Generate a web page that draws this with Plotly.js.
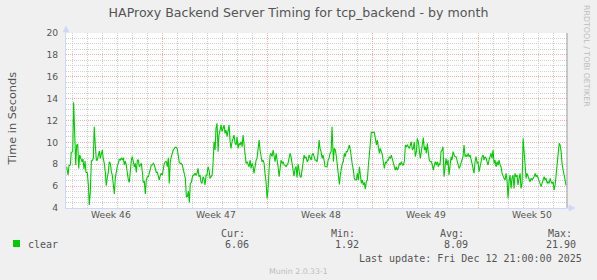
<!DOCTYPE html>
<html>
<head>
<meta charset="utf-8">
<script src="https://cdn.plot.ly/plotly-3.0.1.min.js"></script>
<style>html,body{margin:0;padding:0;background:#f0f0f0;}#chart{width:597px;height:280px;}</style>
</head>
<body>
<div id="chart"></div>
<script>
// time in days since Sun Nov 9 2025 00:00 (2-hour averages)
const day = [
0.64,0.73,0.79,0.88,0.94,1.04,1.10,1.17,1.24,1.30,
1.37,1.44,1.50,1.57,1.66,1.72,1.79,1.86,1.92,2.01,
2.08,2.14,2.21,2.28,2.34,2.41,2.47,2.54,2.61,2.67,
2.74,2.81,2.87,2.94,3.01,3.07,3.14,3.21,3.27,3.34,
3.41,3.47,3.54,3.61,3.67,3.74,3.81,3.87,3.94,4.01,
4.07,4.14,4.20,4.27,4.34,4.40,4.47,4.54,4.60,4.67,
4.74,4.80,4.87,4.94,5.00,5.07,5.14,5.20,5.27,5.34,
5.40,5.47,5.54,5.60,5.67,5.73,5.80,5.87,5.93,6.00,
6.07,6.13,6.20,6.27,6.33,6.40,6.47,6.53,6.60,6.67,
6.73,6.80,6.87,6.93,7.00,7.07,7.13,7.20,7.27,7.33,
7.40,7.46,7.53,7.60,7.66,7.73,7.80,7.86,7.93,8.00,
8.06,8.13,8.20,8.26,8.33,8.40,8.46,8.53,8.60,8.66,
8.73,8.80,8.86,8.93,8.98,9.04,9.11,9.17,9.24,9.31,
9.37,9.44,9.51,9.57,9.64,9.71,9.77,9.84,9.91,9.97,
10.04,10.11,10.17,10.24,10.31,10.37,10.44,10.51,10.57,10.64,
10.71,10.77,10.84,10.91,10.97,11.04,11.11,11.17,11.24,11.31,
11.37,11.44,11.51,11.57,11.64,11.71,11.77,11.84,11.91,11.97,
12.04,12.11,12.17,12.24,12.31,12.37,12.44,12.50,12.57,12.64,
12.70,12.77,12.84,12.90,12.97,13.04,13.10,13.17,13.24,13.30,
13.37,13.44,13.50,13.57,13.63,13.70,13.77,13.83,13.90,13.97,
14.03,14.10,14.17,14.23,14.30,14.37,14.43,14.50,14.57,14.63,
14.70,14.77,14.83,14.90,14.96,15.03,15.10,15.16,15.23,15.30,
15.36,15.43,15.50,15.56,15.63,15.70,15.76,15.83,15.90,15.96,
16.03,16.10,16.16,16.23,16.30,16.36,16.43,16.50,16.56,16.63,
16.70,16.76,16.83,16.90,16.96,17.03,17.10,17.16,17.23,17.30,
17.36,17.43,17.49,17.56,17.63,17.69,17.76,17.83,17.89,17.96,
18.03,18.09,18.16,18.23,18.29,18.34,18.38,18.44,18.51,18.58,
18.64,18.71,18.78,18.84,18.91,18.97,19.04,19.11,19.17,19.24,
19.31,19.37,19.44,19.51,19.57,19.64,19.71,19.77,19.84,19.91,
19.97,20.04,20.11,20.17,20.24,20.31,20.37,20.44,20.50,20.57,
20.64,20.70,20.77,20.84,20.90,20.97,21.04,21.10,21.17,21.24,
21.30,21.37,21.44,21.50,21.57,21.64,21.70,21.77,21.84,21.90,
21.97,22.03,22.10,22.17,22.23,22.30,22.37,22.43,22.50,22.57,
22.63,22.70,22.77,22.83,22.90,22.97,23.03,23.10,23.17,23.23,
23.30,23.37,23.43,23.50,23.56,23.63,23.70,23.76,23.83,23.90,
23.96,24.03,24.10,24.16,24.23,24.30,24.36,24.43,24.50,24.56,
24.63,24.70,24.76,24.83,24.90,24.96,25.03,25.10,25.16,25.23,
25.30,25.36,25.43,25.47,25.54,25.61,25.67,25.74,25.81,25.87,
25.94,26.01,26.07,26.14,26.21,26.27,26.34,26.41,26.47,26.54,
26.60,26.67,26.74,26.80,26.87,26.94,27.00,27.07,27.14,27.20,
27.27,27.34,27.40,27.47,27.54,27.60,27.67,27.74,27.80,27.87,
27.94,28.00,28.07,28.14,28.20,28.27,28.34,28.40,28.47,28.54,
28.60,28.67,28.73,28.80,28.87,28.93,29.00,29.07,29.13,29.20,
29.27,29.33,29.40,29.47,29.53,29.60,29.67,29.73,29.80,29.87,
29.93,30.00,30.07,30.13,30.20,30.26,30.33,30.40,30.46,30.53,
30.60,30.66,30.73,30.80,30.86,30.93,31.00,31.06,31.13,31.20,
31.26,31.33,31.40,31.46,31.53,31.60,31.66,31.73,31.80,31.86,
31.93,32.00,32.06,32.13,32.20,32.26,32.33,32.40,32.46,32.53,
32.60,32.66,32.73,32.80,32.86,32.93,33.00,33.06,33.13,33.20,
33.26,33.33,33.40,33.46,33.53,33.60,33.66,33.73,33.80,33.86
];
// "clear" timing in seconds
const clearSeconds = [
7.77,7.01,7.87,7.93,9.09,9.15,13.66,10.98,7.93,9.76,
9.82,7.62,8.84,8.60,8.23,8.48,7.56,8.29,7.26,7.23,
6.10,4.27,5.49,8.32,8.32,8.54,11.43,9.76,8.38,8.38,
8.84,9.21,8.54,9.09,9.30,8.54,8.08,7.26,6.04,6.77,
7.32,8.23,8.08,7.32,7.01,6.16,5.28,6.71,7.38,7.87,
8.08,8.48,8.38,8.54,8.38,8.60,7.93,8.29,7.93,7.01,
6.56,6.34,7.47,8.38,8.69,8.23,7.77,8.08,7.26,8.38,
8.38,7.77,7.93,8.08,7.32,6.34,6.46,5.28,6.56,6.86,
6.86,7.26,7.77,7.93,7.93,8.08,7.93,7.68,7.26,7.26,
7.01,6.56,7.01,7.17,7.01,7.77,8.08,8.23,8.23,7.77,
8.60,6.25,8.23,8.69,9.09,9.30,9.45,9.54,9.54,9.39,
8.78,8.14,8.08,8.08,7.93,7.56,7.26,6.71,5.03,5.03,
5.55,4.51,6.25,6.34,6.71,7.01,7.01,7.17,7.01,7.17,
7.62,6.86,7.01,6.40,6.25,6.86,6.71,6.10,7.01,7.01,
7.77,7.47,6.71,6.86,7.01,7.93,10.06,9.30,11.28,11.74,
9.15,10.67,11.13,11.59,10.98,11.43,11.59,10.82,11.13,10.52,
11.13,11.59,10.06,9.45,10.06,10.37,10.67,9.91,9.76,10.52,
9.45,9.91,9.76,10.06,9.60,10.67,9.76,8.38,8.08,8.23,
8.08,7.77,8.38,7.62,8.08,7.77,7.17,7.93,8.38,8.54,
9.45,10.21,9.30,8.69,8.23,8.38,8.08,7.17,6.40,4.88,
5.64,7.47,8.84,9.00,8.69,9.30,8.84,8.23,9.00,8.54,
7.77,6.86,7.93,8.38,8.08,8.23,7.93,7.93,7.77,7.93,
8.08,8.54,9.00,8.69,7.77,7.47,6.90,7.60,7.80,6.80,
8.00,7.50,6.90,6.80,7.50,8.38,8.84,8.54,8.69,8.23,
8.38,8.84,8.54,8.38,8.84,9.00,8.69,8.38,8.38,8.23,
9.00,10.21,9.45,9.15,8.54,8.84,8.38,7.77,7.77,7.77,
8.38,8.54,9.00,9.15,11.43,9.15,8.23,9.45,9.30,8.69,
8.08,7.01,6.16,7.01,7.77,8.08,8.23,9.00,8.69,9.15,
9.15,9.45,9.76,9.30,8.54,7.93,7.47,6.71,6.56,6.56,
7.17,6.56,7.77,6.86,6.25,6.56,6.10,6.34,5.73,6.40,
6.56,7.77,9.00,10.06,10.91,10.91,10.91,10.91,10.37,9.76,
10.21,9.76,9.00,9.45,9.15,8.84,8.23,7.62,8.23,8.08,
8.38,8.38,8.69,8.54,8.84,8.54,8.23,7.77,7.47,7.77,
7.47,7.62,8.08,7.93,8.23,7.93,7.93,8.23,9.76,9.60,
9.76,9.60,9.45,9.76,10.06,9.30,9.45,10.06,8.69,9.15,
10.37,10.06,9.30,8.54,9.15,10.06,10.43,9.30,9.60,9.00,
9.91,9.00,8.38,8.23,8.23,7.93,7.47,7.93,8.23,7.93,
8.23,7.77,8.08,7.93,9.15,9.30,9.60,6.86,7.93,8.54,
7.93,8.38,7.01,8.23,8.69,8.38,9.15,8.84,8.69,8.69,
8.38,7.77,7.62,7.77,8.08,8.54,8.69,9.76,8.69,8.84,
8.69,9.00,8.69,8.84,8.23,8.08,7.62,7.17,8.23,8.69,
8.08,8.23,7.32,7.93,8.38,8.69,8.84,8.38,8.69,8.54,
8.23,7.93,8.38,8.69,9.00,8.54,9.30,8.08,8.38,7.77,
8.23,7.93,8.38,7.93,7.77,7.17,6.86,6.71,6.56,7.17,
6.56,4.88,6.56,7.01,5.79,6.71,7.01,5.79,7.17,6.86,
7.01,6.10,6.71,7.17,5.79,6.25,10.37,9.00,8.08,6.71,
7.17,6.86,6.56,6.40,6.71,6.56,6.71,6.86,7.17,6.86,
7.01,6.71,6.56,6.10,5.95,6.25,6.71,6.86,6.56,6.71,
6.25,6.40,6.25,6.71,6.40,6.25,6.40,5.64,6.10,7.32,
8.23,9.15,9.91,9.76,9.15,7.93,7.47,7.01,6.25,6.06
];
const weekTicks = [3.5, 10.5, 17.5, 24.5, 31.5];
const weekLabels = ["Week 46", "Week 47", "Week 48", "Week 49", "Week 50"];
const statHeaders = ["Cur:", "Min:", "Avg:", "Max:"];
const statValues = ["6.06", "1.92", "8.09", "21.90"];
const seriesName = "clear";
const lastUpdate = "Last update: Fri Dec 12 21:00:00 2025";

const W = 597, H = 280, PL = 66, PT = 33, PW = 501, PH = 175;
const px = x => (x - PL) / PW;
const py = y => (PT + PH - y) / PH;
const FONT = "DejaVu Sans";
const MONO = "DejaVu Sans Mono";
const TXT = "#555";
const AXIS = "#CFD6F8";
const MGRID = "#efb0b0";
const GRID = "#d2d2d2";

const annotations = [];
annotations.push({text: "Time in Seconds", xref: "paper", yref: "paper", x: px(12), y: py(118.5),
  textangle: -90, showarrow: false, xanchor: "center", yanchor: "middle",
  font: {family: FONT, size: 11.3, color: TXT}});
weekTicks.forEach((d, i) => annotations.push({text: weekLabels[i], xref: "x", yref: "paper", x: d, y: py(214),
  xshift: 1, showarrow: false, xanchor: "center", yanchor: "middle", borderpad: 0,
  font: {family: FONT, size: 9.2, color: TXT}}));
annotations.push({text: "RRDTOOL / TOBI OETIKER", xref: "paper", yref: "paper", x: px(587), y: py(56),
  textangle: 90, showarrow: false, xanchor: "center", yanchor: "middle",
  font: {family: FONT, size: 7.9, color: "#bdbdbd"}});
annotations.push({text: seriesName, xref: "paper", yref: "paper", x: px(27), y: py(244),
  showarrow: false, xanchor: "left", yanchor: "middle", borderpad: 0,
  font: {family: MONO, size: 10, color: TXT}});
const colStart = [219.5, 329.5, 438.5, 547];
statHeaders.forEach((h, i) => {
  annotations.push({text: h, xref: "paper", yref: "paper", x: px(colStart[i]), y: py(233),
    showarrow: false, xanchor: "left", yanchor: "middle", borderpad: 0,
    font: {family: MONO, size: 10, color: TXT}});
  annotations.push({text: statValues[i], xref: "paper", yref: "paper", x: px(colStart[i] + 30.1), y: py(244),
    showarrow: false, xanchor: "right", yanchor: "middle", borderpad: 0,
    font: {family: MONO, size: 10, color: TXT}});
});
annotations.push({text: lastUpdate, xref: "paper", yref: "paper", x: px(583), y: py(258),
  showarrow: false, xanchor: "right", yanchor: "middle", borderpad: 0,
  font: {family: MONO, size: 10, color: TXT}});
annotations.push({text: "Munin 2.0.33-1", xref: "paper", yref: "paper", x: px(298.5), y: py(271),
  showarrow: false, xanchor: "center", yanchor: "middle", borderpad: 0,
  font: {family: FONT, size: 7.8, color: "#bdbdbd"}});

const shapes = [
  // legend swatch
  {type: "rect", xref: "paper", yref: "paper", x0: px(13), x1: px(20), y0: py(247), y1: py(240),
   fillcolor: "#00cc00", line: {width: 0}},
  // right edge line
  {type: "line", xref: "paper", yref: "paper", x0: 1, x1: 1, y0: 0, y1: 1,
   line: {color: "#9a9a9a", width: 1}},
  // axis extensions and arrows
  {type: "path", xref: "paper", yref: "paper", xsizemode: "pixel", ysizemode: "pixel", xanchor: 0, yanchor: 1,
   path: "M0,0 L0,2", line: {color: AXIS, width: 1}},
  {type: "path", xref: "paper", yref: "paper", xsizemode: "pixel", ysizemode: "pixel", xanchor: 0, yanchor: 1,
   path: "M-3,1 L3,1 L0,7 Z", fillcolor: AXIS, line: {color: AXIS, width: 0.5}},
  {type: "path", xref: "paper", yref: "paper", xsizemode: "pixel", ysizemode: "pixel", xanchor: 1, yanchor: 0,
   path: "M0,0 L3,0", line: {color: AXIS, width: 1}},
  {type: "path", xref: "paper", yref: "paper", xsizemode: "pixel", ysizemode: "pixel", xanchor: 1, yanchor: 0,
   path: "M2,-3 L2,3 L8,0 Z", fillcolor: AXIS, line: {color: AXIS, width: 0.5}}
];

const trace = {x: day, y: clearSeconds, type: "scatter", mode: "lines", name: seriesName,
  line: {color: "#00cc00", width: 1.1}, hoverinfo: "skip"};

const layout = {
  width: W, height: H,
  margin: {l: PL, r: W - PL - PW, t: PT, b: H - PT - PH, pad: 0},
  paper_bgcolor: "#f0f0f0", plot_bgcolor: "#ffffff",
  showlegend: false,
  title: {text: "HAProxy Backend Server Timing for tcp_backend - by month",
    xref: "container", yref: "container", x: 0.5, y: 1 - 13 / H, xanchor: "center", yanchor: "middle",
    font: {family: FONT, size: 12.6, color: TXT}},
  xaxis: {range: [0.592, 33.92], tickmode: "linear", tick0: 0, dtick: 7,
    showticklabels: false, ticks: "", showgrid: true, gridcolor: MGRID, griddash: "1px,1px", gridwidth: 1,
    minor: {tickmode: "linear", tick0: 0, dtick: 1, showgrid: true, gridcolor: GRID, griddash: "1px,1px", gridwidth: 1, ticks: ""},
    showline: true, linecolor: AXIS, linewidth: 1, zeroline: false, fixedrange: true},
  yaxis: {range: [4, 20], tickmode: "linear", tick0: 0, dtick: 2,
    ticks: "", ticklabelstandoff: 5,
    tickfont: {family: FONT, size: 9.2, color: TXT},
    showgrid: true, gridcolor: MGRID, griddash: "1px,1px", gridwidth: 1,
    minor: {tickmode: "linear", tick0: 0, dtick: 0.5, showgrid: true, gridcolor: GRID, griddash: "1px,1px", gridwidth: 1, ticks: ""},
    showline: true, linecolor: AXIS, linewidth: 1, zeroline: false, fixedrange: true},
  annotations: annotations,
  shapes: shapes
};

Plotly.newPlot("chart", [trace], layout, {staticPlot: true, displayModeBar: false});
</script>
</body>
</html>
